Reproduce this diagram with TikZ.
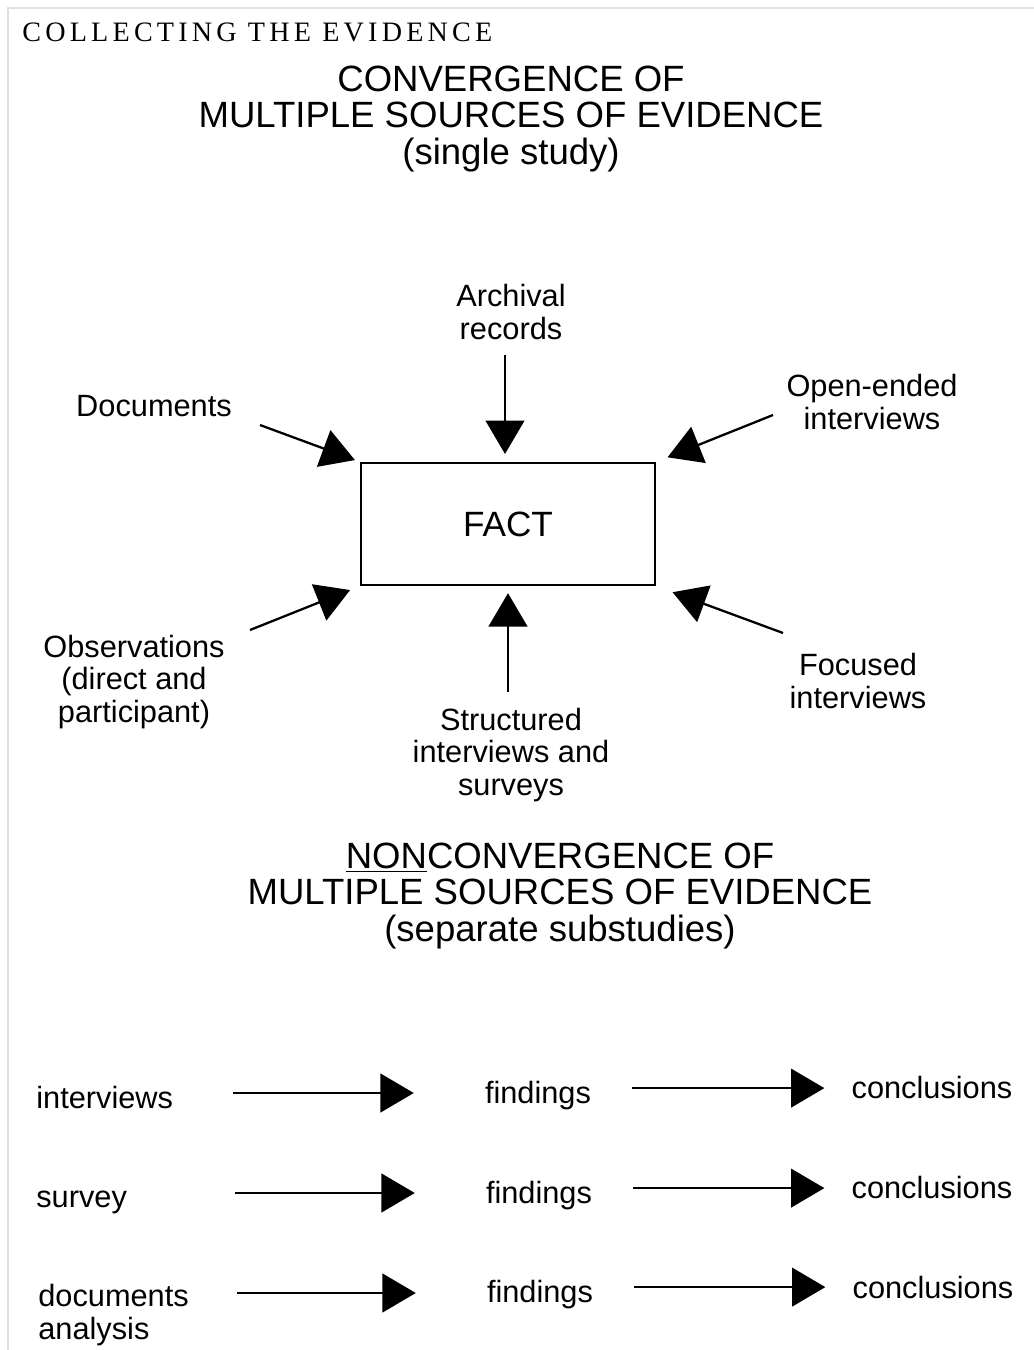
\documentclass[tikz,border=0pt]{standalone}
\usepackage{fontspec}
\setmainfont{Liberation Sans}
\newfontfamily\headfont[LetterSpace=15]{Liberation Serif}
\usetikzlibrary{arrows.meta, positioning}

\begin{document}
\begin{tikzpicture}[
  x=0.02cm, y=-0.02cm,
  heading/.style={font=\fontsize{20.8}{20.8}\selectfont, align=center},
  src/.style={font=\fontsize{17.5}{18.7}\selectfont, align=center},
  rowlbl/.style={font=\fontsize{17.5}{19}\selectfont, align=left},
  factbox/.style={rectangle, draw, line width=1.3pt, minimum width=5.88cm, minimum height=2.44cm, font=\fontsize{20}{24}\selectfont},
  conv/.style={line width=1.3pt, -{Triangle[length=19pt, width=22pt]}},
  flow/.style={line width=1.3pt, -{Triangle[length=19pt, width=22pt]}}
]
\useasboundingbox (0,0) rectangle (1034,1350);
\draw[gray!25, line width=0.8pt] (8,1350) |- (1034,8);

% page heading
\node[anchor=west, inner sep=0pt, font=\headfont\fontsize{16}{17}\selectfont] (page) at (22,32) {COLLECTING THE EVIDENCE};

% convergence
\node[heading] (t1) at (511,119) {CONVERGENCE OF\\MULTIPLE SOURCES OF EVIDENCE\\(single study)};
\node[factbox] (fact) at (508,524) {FACT};

\node[src] (arch) at (511,312) {Archival\\records};
\node[src] (docs) at (154,406) {Documents};
\node[src] (open) at (872,402) {Open-ended\\interviews};
\node[src] (obs) at (134,682) {Observations\\(direct and\\participant)};
\node[src] (struct) at (511,755) {Structured\\interviews and\\surveys};
\node[src] (focus) at (858,681) {Focused\\interviews};

\coordinate (arch-tail) at (505,355);
\coordinate (docs-tail) at (260,425);
\coordinate (open-tail) at (773,415);
\coordinate (obs-tail) at (250,630);
\coordinate (struct-tail) at (508,692);
\coordinate (focus-tail) at (783,633);

\draw[conv, shorten >=4.5pt] (arch-tail) -- (arch-tail |- fact.north);
\draw[conv, shorten >=3pt] (docs-tail) -- (fact.north west);
\draw[conv, shorten >=7pt] (open-tail) -- (fact.north east);
\draw[conv, shorten >=6pt] (obs-tail) -- (fact.south west);
\draw[conv, shorten >=4pt] (struct-tail) -- (struct-tail |- fact.south);
\draw[conv, shorten >=10pt] (focus-tail) -- (fact.south east);

% nonconvergence
\node[heading] (t2) at (560,896) {\underline{NON}CONVERGENCE OF\\MULTIPLE SOURCES OF EVIDENCE\\(separate substudies)};

\node[rowlbl, anchor=west, inner sep=0pt] (int) at (36,1097) {interviews};
\node[rowlbl] (find1) at (538,1096) {findings};
\node[rowlbl] (conc1) at (932,1087) {conclusions};

\node[rowlbl, anchor=west, inner sep=0pt] (surv) at (36,1202) {survey};
\node[rowlbl] (find2) at (539,1196) {findings};
\node[rowlbl] (conc2) at (932,1187) {conclusions};

\node[rowlbl, anchor=west, inner sep=0pt] (docan) at (38,1315) {documents\\analysis};
\node[rowlbl] (find3) at (540,1295) {findings};
\node[rowlbl] (conc3) at (933,1287) {conclusions};

\coordinate (r1-tail) at (233,1093);
\coordinate (r2-tail) at (235,1193);
\coordinate (r3-tail) at (237,1293);

\draw[flow] (r1-tail) -- ([xshift=-37pt]r1-tail -| find1.west);
\draw[flow] (r2-tail) -- ([xshift=-37pt]r2-tail -| find2.west);
\draw[flow] (r3-tail) -- ([xshift=-37pt]r3-tail -| find3.west);

\draw[flow] ([xshift=20pt, yshift=4.5pt]find1.east) -- ([xshift=-12pt, yshift=4.5pt]find1.east -| conc1.west);
\draw[flow] ([xshift=20pt, yshift=4.5pt]find2.east) -- ([xshift=-12pt, yshift=4.5pt]find2.east -| conc2.west);
\draw[flow] ([xshift=20pt, yshift=4.5pt]find3.east) -- ([xshift=-12pt, yshift=4.5pt]find3.east -| conc3.west);
\end{tikzpicture}
\end{document}
